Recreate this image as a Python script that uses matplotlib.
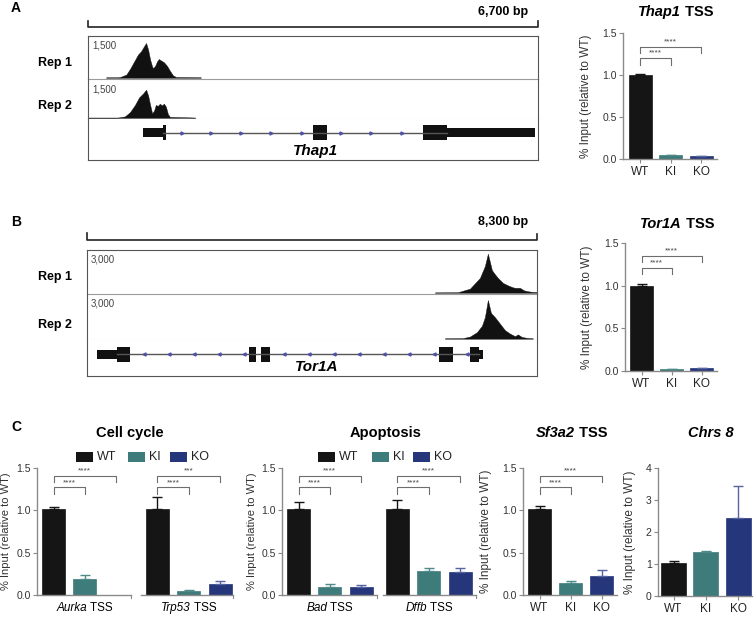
import numpy as np
import matplotlib
matplotlib.use("Agg")
import matplotlib.pyplot as plt
from matplotlib.patches import Rectangle
from matplotlib.lines import Line2D

plt.rcParams['font.family'] = ['Liberation Sans', 'DejaVu Sans']

W, H = 754, 617

# ---------------------------------------------------------------- data
genotypes = ['WT', 'KI', 'KO']
bar_colors = ['#151515', '#3e7b7b', '#25367a']

# ChIP-seq coverage (bp position, reads), panel A (Thap1 locus, 6,700 bp)
thap1_rep1_bp = [270, 450, 490, 570, 625, 685, 745, 790, 820, 865, 895, 925, 955, 970,
                 1000, 1030, 1055, 1085, 1130, 1175, 1220, 1265, 1310, 1680]
thap1_rep1_cov = [20, 20, 40, 120, 330, 600, 870, 990, 1120, 1300, 1050, 680, 420, 360,
                  450, 620, 700, 650, 580, 450, 260, 90, 30, 20]
thap1_rep2_bp = [0, 447, 550, 625, 700, 760, 820, 865, 895, 925, 955, 985, 1010, 1040,
                 1070, 1100, 1130, 1160, 1190, 1220, 1595]
thap1_rep2_cov = [15, 15, 60, 230, 520, 820, 980, 1130, 900, 520, 180, 300, 520, 480,
                  570, 500, 570, 450, 150, 40, 15]
thap1_exons = [(819, 1117, 'utr'), (1117, 1161, 'cds'), (3350, 3559, 'cds'),
               (4988, 5345, 'cds'), (5345, 6656, 'utr')]
thap1_chevrons = [1400, 1831, 2278, 2725, 3186, 3767, 4214, 4675]

# panel B (Tor1A locus, 8,300 bp)
tor1a_rep1_bp = [6417, 6841, 7063, 7247, 7339, 7394, 7431, 7468, 7524, 7579, 7671, 7763,
                 7837, 7892, 7985, 8058, 8114, 8224, 8298]
tor1a_rep1_cov = [30, 40, 300, 1080, 1950, 2850, 2250, 1650, 1350, 1080, 720, 540,
                  420, 360, 360, 180, 120, 60, 60]
tor1a_rep2_bp = [6601, 6933, 7063, 7190, 7284, 7339, 7394, 7450, 7524, 7616, 7708, 7800,
                 7892, 7948, 8021, 8114, 8224]
tor1a_rep2_cov = [30, 40, 150, 450, 900, 1500, 2700, 1800, 1500, 1050, 600, 360,
                  180, 300, 120, 60, 30]
tor1a_exons = [(184, 553, 'utr'), (553, 793, 'cds'), (2987, 3116, 'cds'), (3208, 3374, 'cds'),
               (6491, 6749, 'cds'), (7063, 7228, 'cds'), (7228, 7302, 'utr')]
tor1a_chevrons = [1051, 1512, 1973, 2434, 2895, 3633, 4094, 4555, 5016, 5477, 5938, 6399, 7007]

# ChIP-qPCR, % input relative to WT
thap1_mean = [1.0, 0.045, 0.03]
thap1_err = [0.01, 0.004, 0.004]
tor1a_mean = [1.0, 0.02, 0.03]
tor1a_err = [0.025, 0.003, 0.004]

cellcycle_genes = ['Aurka', 'Trp53']
cellcycle_mean = [[1.015, 0.185, 0.0], [1.015, 0.047, 0.126]]
cellcycle_err = [[0.025, 0.05, 0.0], [0.14, 0.008, 0.04]]
cellcycle_stars = [['****', '****'], ['****', '***']]

apoptosis_genes = ['Bad', 'Dffb']
apoptosis_mean = [[1.015, 0.10, 0.10], [1.015, 0.28, 0.275]]
apoptosis_err = [[0.08, 0.03, 0.015], [0.11, 0.035, 0.04]]
apoptosis_stars = [['****', '****'], ['****', '****']]

sf3a2_mean = [1.01, 0.145, 0.228]
sf3a2_err = [0.045, 0.015, 0.065]
chrs8_mean = [1.03, 1.38, 2.44]
chrs8_err = [0.06, 0.025, 1.01]

fig = plt.figure(figsize=(W / 100, H / 100), dpi=100)


def px_axes(x0, y0, x1, y1):
    return fig.add_axes([x0 / W, 1 - y1 / H, (x1 - x0) / W, (y1 - y0) / H])


def ftext(x, y, s, **kw):
    return fig.text(x / W, 1 - y / H, s, **kw)


def fline(xs, ys, **kw):
    fig.add_artist(Line2D([x / W for x in xs], [1 - y / H for y in ys], **kw))


def mixed(x, y, parts, size):
    # centred text made of pieces with different styles
    r = fig.canvas.get_renderer()
    ts = [fig.text(0, 1 - y / H, s, fontsize=size, style=st, weight=wt, va='center')
          for s, st, wt in parts]
    ws = [t.get_window_extent(r).width for t in ts]
    cx = x - sum(ws) / 2
    for t, w in zip(ts, ws):
        t.set_x(cx / W)
        cx += w


# ---------------------------------------------------------------- genome tracks
def track_panel(x0, x1, rows, span, scale, reps, exons, chevrons, direction, gene, gene_xy):
    (r1a, r1b), (r2a, r2b), (ga, gb, line_y) = rows
    dark, mid, light = '#555555', '#9a9a9a', '#c9c9dc'
    for (ya, yb), (bp, cov), lab_y in zip([(r1a, r1b), (r2a, r2b)], reps, [r1a, r2a]):
        ax = px_axes(x0, ya, x1, yb)
        ax.fill_between(bp, 0, cov, color='#111111', lw=0.3, edgecolor='#111111')
        ax.set_xlim(0, span)
        ax.set_ylim(-scale * 0.03, scale * 1.04)
        ax.set_xticks([])
        ax.set_yticks([])
        for s in ['left', 'right']:
            ax.spines[s].set_color(dark)
        ax.spines['top'].set_visible(ya == r1a)
        ax.spines['top'].set_color(dark)
        ax.spines['bottom'].set_color(mid if ya == r1a else light)
        ax.patch.set_alpha(0)
        ftext(x0 + 4, lab_y + 10, f'{scale:,}', fontsize=7, color='#444444', va='center')

    ax = px_axes(x0, ga, x1, gb)
    ax.set_xlim(0, span)
    ax.set_ylim(gb, ga)
    ax.set_xticks([])
    ax.set_yticks([])
    ax.spines['top'].set_visible(False)
    for s in ['left', 'right', 'bottom']:
        ax.spines[s].set_color(dark)
    ax.plot([exons[0][1], exons[-1][0]], [line_y, line_y], color='#555555', lw=1)
    for a, b, kind in exons:
        half = 7.5 if kind == 'cds' else 4.5
        ax.add_patch(Rectangle((a, line_y - half), b - a, 2 * half, color='#111111', lw=0))
    ax.plot(chevrons, [line_y] * len(chevrons), ls='none', marker=direction, ms=2.2,
            color='#5050a8')
    ftext(gene_xy[0], gene_xy[1], gene, fontsize=11, style='italic', weight='bold',
          ha='center', va='center')


# panel A track
track_panel(88, 538, [(36, 79), (79, 119), (119, 160, 132.7)], 6700, 1500,
            [(thap1_rep1_bp, thap1_rep1_cov), (thap1_rep2_bp, thap1_rep2_cov)],
            thap1_exons, thap1_chevrons, '>', 'Thap1', (315, 151))
fline([88, 88, 538, 538], [21, 26.5, 26.5, 21], color='#222222', lw=1.2)
ftext(528, 12, '6,700 bp', fontsize=9, weight='bold', ha='right', va='center')
ftext(72, 63, 'Rep 1', fontsize=9, weight='bold', ha='right', va='center')
ftext(72, 106, 'Rep 2', fontsize=9, weight='bold', ha='right', va='center')

# panel B track
track_panel(87, 537, [(250, 294), (294, 340), (340, 376, 354)], 8300, 3000,
            [(tor1a_rep1_bp, tor1a_rep1_cov), (tor1a_rep2_bp, tor1a_rep2_cov)],
            tor1a_exons, tor1a_chevrons, '<', 'Tor1A', (317, 367))
fline([87, 87, 537, 537], [233, 240, 240, 234], color='#222222', lw=1.2)
ftext(528, 222, '8,300 bp', fontsize=9, weight='bold', ha='right', va='center')
ftext(72, 277, 'Rep 1', fontsize=9, weight='bold', ha='right', va='center')
ftext(72, 325, 'Rep 2', fontsize=9, weight='bold', ha='right', va='center')

for lab, y in [('A', 8), ('B', 222), ('C', 427)]:
    ftext(16, y, lab, fontsize=10, weight='bold', ha='center', va='center')


# ---------------------------------------------------------------- bar charts
def style_ax(ax, ymax, yticks, fmt, label_x_px, ax_x0, ax_w, label_size=8.5):
    for s in ['top', 'right']:
        ax.spines[s].set_visible(False)
    for s in ['left', 'bottom']:
        ax.spines[s].set_color('#8a8a8a')
        ax.spines[s].set_linewidth(1)
    ax.set_ylim(0, ymax)
    ax.set_yticks(yticks)
    ax.set_yticklabels([fmt.format(t) for t in yticks])
    ax.tick_params(axis='y', length=3, width=0.8, color='#8a8a8a', labelsize=7.5,
                   labelcolor='#333333', pad=1.5)
    ax.tick_params(axis='x', length=3, width=0.8, color='#8a8a8a', labelsize=8.5,
                   labelcolor='#222222', pad=2)
    ax.set_ylabel('% Input (relative to WT)', fontsize=label_size, color='#333333')
    ax.yaxis.set_label_coords((label_x_px - ax_x0) / ax_w, 0.5)
    ax.patch.set_alpha(0)


def draw_bars(ax, xs, means, errs, width):
    err_colors = ['#151515', '#4f8a8a', '#5664a0']
    for x, m, e, c, ec in zip(xs, means, errs, bar_colors, err_colors):
        if m > 0:
            ax.bar(x, m, width=width, color=c, edgecolor=c, lw=0.5)
        if e > 0:
            ax.errorbar(x, m, yerr=[[0], [e]], fmt='none', ecolor=ec, elinewidth=1,
                        capsize=3.5, capthick=1)


def bracket(ax, x1, x2, y, leg, label):
    ax.plot([x1, x1, x2, x2], [y - leg, y, y, y - leg], color='#6e6e6e', lw=0.8,
            clip_on=False)
    ax.text((x1 + x2) / 2, y + 0.012 * ax.get_ylim()[1], label, ha='center', va='bottom',
            fontsize=6, color='#444444')


def simple_bar(box, centers_px, means, errs, title_xy, gene, levels, label_x, stars):
    x0, y0, x1, y1 = box
    step = centers_px[1] - centers_px[0]
    ax = px_axes(x0, y0, x1, y1)
    xs = np.arange(3)
    draw_bars(ax, xs, means, errs, 23 / step)
    ax.set_xlim((x0 - centers_px[0]) / step, (x1 - centers_px[0]) / step)
    ax.set_xticks(xs)
    ax.set_xticklabels(genotypes)
    style_ax(ax, 1.5, [0, 0.5, 1.0, 1.5], '{:.1f}', label_x, x0, x1 - x0)
    (lo, lo_leg), (hi, hi_leg) = levels
    bracket(ax, 0, 1, lo, lo_leg, stars[0])
    bracket(ax, 0, 2, hi, hi_leg, stars[1])
    mixed(title_xy[0], title_xy[1], [(gene, 'italic', 'bold'), (' TSS', 'normal', 'bold')], 10.5)
    return ax


simple_bar((623, 32.7, 717, 159), [640, 670.5, 701], thap1_mean, thap1_err, (676, 12),
           'Thap1', [(1.20, 0.08), (1.33, 0.07)], 592, ['****', '****'])
simple_bar((625, 243, 717, 371), [641.5, 671.5, 702.5], tor1a_mean, tor1a_err, (677, 224),
           'Tor1A', [(1.21, 0.07), (1.35, 0.07)], 593, ['****', '****'])


def grouped_bar(box, first_px, step, offset, genes, means, errs, stars, label_x, segs):
    x0, y0, x1, y1 = box
    ax = px_axes(x0, y0, x1, y1)
    ax.set_xlim((x0 - first_px) / step, (x1 - first_px) / step)
    style_ax(ax, 1.5, [0, 0.5, 1.0, 1.5], '{:.1f}', label_x, x0, x1 - x0, 8)
    ax.spines['bottom'].set_visible(False)
    ax.set_xticks([])
    tr = ax.get_xaxis_transform()
    for a, b in segs:
        ax.plot([a, b], [0, 0], color='#8a8a8a', lw=1, transform=tr, clip_on=False)
        ax.plot([b, b], [0, -0.025], color='#8a8a8a', lw=0.8, transform=tr, clip_on=False)
    for g, (gene, m, e, st) in enumerate(zip(genes, means, errs, stars)):
        xs = g * offset + np.arange(3)
        draw_bars(ax, xs, m, e, 23 / step)
        bracket(ax, xs[0], xs[1], 1.27, 0.08, st[0])
        bracket(ax, xs[0], xs[2], 1.41, 0.075, st[1])
        cx = ax.transData.transform((xs[1], 0))[0]
        mixed(cx, 608, [(gene, 'italic', 'normal'), (' TSS', 'normal', 'normal')], 8.5)
    return ax


grouped_bar((37, 468, 233, 595), 53.5, 31.3, 3.32, cellcycle_genes, cellcycle_mean,
            cellcycle_err, cellcycle_stars, 11, [(-0.527, 2.48), (2.80, 5.735)])
grouped_bar((282, 468, 476, 595), 298.5, 31.3, 3.16, apoptosis_genes, apoptosis_mean,
            apoptosis_err, apoptosis_stars, 257, [(-0.527, 2.51), (2.70, 5.67)])

# Sf3a2
ax = simple_bar((523, 468, 617, 595), [539.5, 570.5, 601.5], sf3a2_mean, sf3a2_err,
                (572, 433), 'Sf3a2', [(1.27, 0.08), (1.41, 0.075)], 492, ['****', '****'])

# Chrs 8
x0, y0, x1, y1 = 658, 468, 752, 596
ax = px_axes(x0, y0, x1, y1)
xs = np.arange(3)
step = 32.25
draw_bars(ax, xs, chrs8_mean, chrs8_err, 25 / step)
ax.set_xlim((x0 - 673.5) / step, (x1 - 673.5) / step)
ax.set_xticks(xs)
ax.set_xticklabels(genotypes)
style_ax(ax, 4, [0, 1, 2, 3, 4], '{:d}', 636, x0, x1 - x0)
mixed(711, 433, [('Chrs 8', 'italic', 'bold')], 10.5)

# group titles and legends
ftext(129.5, 433, 'Cell cycle', fontsize=10.5, weight='bold', ha='center', va='center')
ftext(385.5, 433, 'Apoptosis', fontsize=10.5, weight='bold', ha='center', va='center')
for sq_x in [(76, 128, 170), (318, 372, 413)]:
    for sx, c, g in zip(sq_x, bar_colors, genotypes):
        fig.add_artist(Rectangle((sx / W, 1 - 461.5 / H), 17 / W, 9.5 / H, color=c,
                                 transform=fig.transFigure, lw=0))
        ftext(sx + 21, 457, g, fontsize=9, va='center', color='#222222')

fig.savefig('out.png', dpi=100)
